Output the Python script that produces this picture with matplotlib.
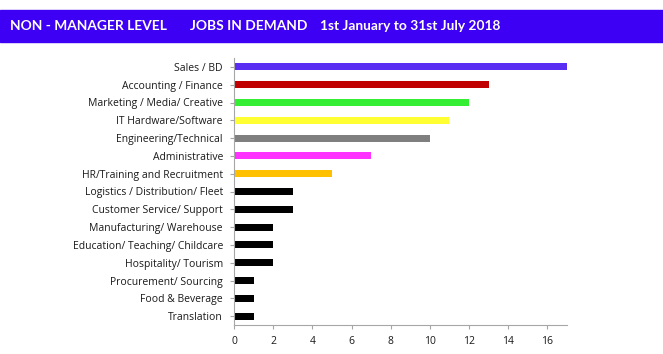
import matplotlib.pyplot as plt
from matplotlib.patches import Rectangle

# Jobs in demand, top to bottom as shown
categories = [
    'Sales / BD', 'Accounting / Finance', 'Marketing / Media/ Creative',
    'IT Hardware/Software', 'Engineering/Technical', 'Administrative',
    'HR/Training and Recruitment', 'Logistics / Distribution/ Fleet',
    'Customer Service/ Support', 'Manufacturing/ Warehouse',
    'Education/ Teaching/ Childcare', 'Hospitality/ Tourism',
    'Procurement/ Sourcing', 'Food & Beverage', 'Translation',
]
counts = [17, 13, 12, 11, 10, 7, 5, 3, 3, 2, 2, 2, 1, 1, 1]
colors = ['#5a2ef2', '#c00000', '#33ee33', '#ffff33', '#7f7f7f', '#ff33ff',
          '#ffc000'] + ['#000000'] * 8
xticks = [0, 2, 4, 6, 8, 10, 12, 14, 16]

fig = plt.figure(figsize=(6.63, 3.54), dpi=100)

# header band
fig.patches.append(Rectangle((0, 1 - 42 / 354), 1, 32 / 354,
                             transform=fig.transFigure, color='#3d00f5', zorder=0))
hdr = dict(color='white', fontsize=9.9, fontweight='bold', family='Lato',
           va='center', ha='left')
ymid = 1 - 26 / 354
fig.text(10 / 663, ymid, 'NON - MANAGER LEVEL', **hdr)
fig.text(190 / 663, ymid, 'JOBS IN DEMAND', **hdr)
fig.text(320 / 663, ymid, '1st January to 31st July 2018', **hdr)

ax = fig.add_axes([234 / 663, 29 / 354, (567 - 234) / 663, (325 - 58) / 354])
pos = list(range(len(categories)))[::-1]
ax.barh(pos, counts, height=0.4, color=colors)

ax.set_yticks(pos)
ax.set_yticklabels(categories, fontsize=7.5, family='Open Sans', color='#1a1a1a')
ax.set_xticks(xticks)
ax.set_xticklabels([str(t) for t in xticks], fontsize=7.5, family='Open Sans',
                   color='#1a1a1a')
ax.set_xlim(0, 17)
ax.set_ylim(-0.5, 14.5)

for side in ['top', 'right']:
    ax.spines[side].set_visible(False)
for side in ['left', 'bottom']:
    ax.spines[side].set_color('#a6a6a6')
    ax.spines[side].set_linewidth(0.8)
ax.tick_params(axis='both', length=3, width=0.8, color='#a6a6a6', pad=5)

fig.savefig('out.png', dpi=100)
